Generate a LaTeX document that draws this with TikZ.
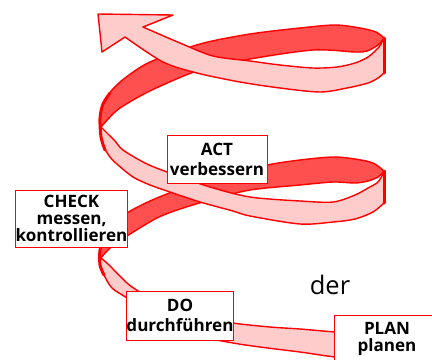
\documentclass[tikz,border=0pt]{standalone}
\usepackage{fontspec}
\setmainfont{Open Sans}
\usetikzlibrary{positioning}
\definecolor{ribbonred}{RGB}{255,0,0}
\definecolor{backband}{RGB}{255,80,80}
\definecolor{frontband}{RGB}{255,204,204}
\tikzset{
        back/.style={fill=backband,draw=ribbonred,line width=0.8pt,line join=round},
        front/.style={fill=frontband,draw=ribbonred,line width=0.8pt,line join=round},
        rim/.style={draw=ribbonred,line width=1.7pt,line cap=round},
        card/.style={draw=ribbonred,fill=white,line width=0.5pt,inner sep=0pt,align=center,
                font=\fontsize{9.7}{11.4}\selectfont\bfseries},
        }

\begin{document}
\begin{tikzpicture}[x=0.02cm,y=-0.02cm]
	\useasboundingbox (0,0) rectangle (432,359);

	% upper back band..................
	\filldraw [back] plot [smooth] coordinates {(101,127) (100,116) (104,102) (112,90) (125,78) (150,62) (200,44) (250,34) (300,28) (335,25) (360,28) (376,32) (384,38)}
		-- plot [smooth] coordinates {(384,38) (378,45) (367,51) (355,52) (313,50) (250,59) (200,70) (165,84) (142,95) (120,108) (110,117) (101,127)} -- cycle;

	% middle back band.................
	\filldraw [back] plot [smooth] coordinates {(101,258) (100,250) (103,238) (112,226) (127,213) (150,201) (180,189) (220,176) (267,165) (300,160) (333,157) (355,159) (373,163) (384,171)}
		-- plot [smooth] coordinates {(384,171) (378,177) (368,181) (355,183) (333,182) (300,185) (250,190) (210,200) (180,209) (157,218) (130,234) (115,244) (107,251) (101,258)} -- cycle;

	% middle front band................
	\filldraw [front] plot [smooth] coordinates {(101,127) (108,134) (115,141) (123,150) (145,163) (167,172) (210,187) (250,197) (300,201) (333,202) (355,195) (368,188) (378,182) (384,172)}
		-- (384,203) -- plot [smooth] coordinates {(384,203) (373,212) (355,219) (333,222) (300,224) (250,216) (233,211) (200,202) (170,192) (150,185) (133,177) (118,165) (110,157) (104,147) (101,137) (101,127)} -- cycle;

	% bottom front band................
	\filldraw [front] plot [smooth] coordinates {(101,258) (108,264) (119,275) (132,287) (160,303) (200,316) (233,323) (270,327) (300,329) (335,332) (365,334)}
		-- (365,359) -- plot [smooth] coordinates {(365,359) (335,357) (300,352) (260,347) (233,343) (200,336) (160,320) (127,298) (112,288) (104,275) (100,265) (101,258)} -- cycle;

	% top front band with arrow head...
	\filldraw [front] plot [smooth] coordinates {(384,38) (379,47) (368,57) (355,63) (337,67) (313,68) (280,65) (250,61) (213,56) (180,43) (143,27)}
		-- (173,15) -- (98,14) -- (102,52) -- (125,37)
		-- plot [smooth] coordinates {(125,37) (163,62) (197,73) (240,82) (280,88) (320,92) (347,88) (368,83) (378,78) (384,73)} -- cycle;

	% rims at the turns................
	\draw [rim] (384,38) -- (384,73);
	\draw [rim] (384,171) -- (384,203);
	\draw [rim] plot [smooth] coordinates {(110,93) (103,104) (100,118) (101,137) (105,150)};
	\draw [rim] plot [smooth] coordinates {(104,236) (100,250) (100,265) (104,275)};

	% labels...........................
	\node [card,minimum width=2cm,minimum height=0.96cm] (act) at (217,159) {ACT\\verbessern};
	\node [card,minimum width=2.22cm,minimum height=1.14cm,font=\fontsize{9.7}{9.6}\selectfont\bfseries] (check) at (71.5,218.5) {CHECK\\messen,\\kontrollieren};
	\node [card,minimum width=2.08cm,minimum height=0.98cm] (do) at (180,315.5) {DO\\durchführen};
	\node [card,minimum width=2.12cm,minimum height=0.96cm,font=\fontsize{9.7}{9.6}\selectfont\bfseries] (plan) at (387,339) {PLAN\\planen};
	\node [font=\fontsize{14.5}{14.5}\selectfont] (der) at (330,285) {der};
\end{tikzpicture}
\end{document}
